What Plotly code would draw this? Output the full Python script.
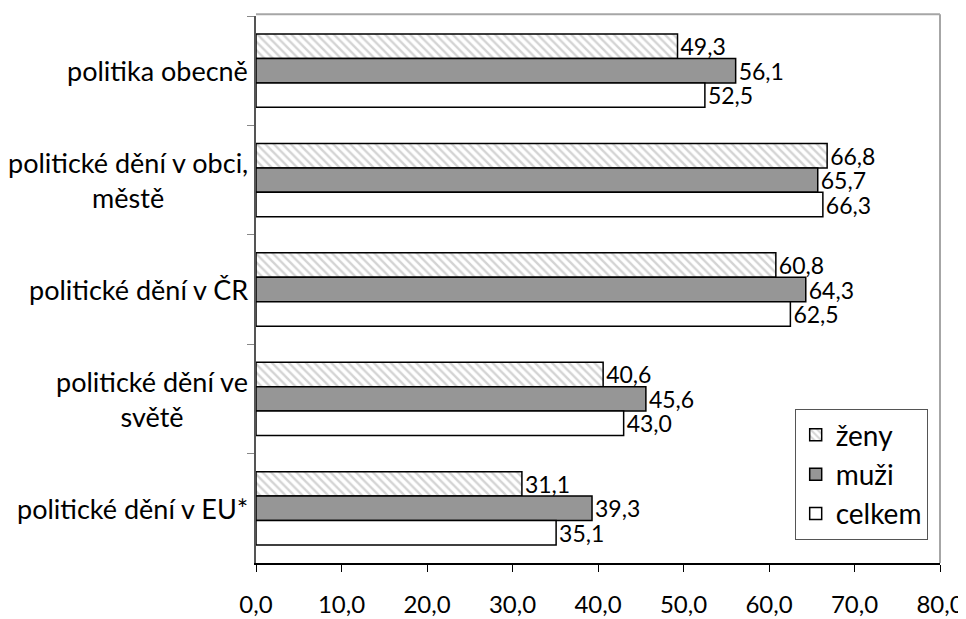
import plotly.graph_objects as go

categories = ["politika obecně", "politické dění v obci,<br>městě", "politické dění v ČR",
              "politické dění ve<br>světě", "politické dění v EU*"]
zeny = [49.3, 66.8, 60.8, 40.6, 31.1]
muzi = [56.1, 65.7, 64.3, 45.6, 39.3]
celkem = [52.5, 66.3, 62.5, 43.0, 35.1]
x_ticks = [0, 10, 20, 30, 40, 50, 60, 70, 80]

FONT = "Lato, Carlito, Calibri, sans-serif"

fig = go.Figure()
common = dict(orientation="h", textposition="outside", texttemplate="%{x:.1f}",
              textfont=dict(size=23, color="black", family=FONT), cliponaxis=False,
              constraintext="none")
fig.add_trace(go.Bar(name="ženy", y=categories, x=zeny, legendgroup="a",
                     marker=dict(color="white", line=dict(color="black", width=1.5),
                                 pattern=dict(shape="\\", fgcolor="#a8a8a8", bgcolor="white",
                                              size=6, solidity=0.4)),
                     **common))
fig.add_trace(go.Bar(name="muži", y=categories, x=muzi, legendgroup="b",
                     marker=dict(color="#969696", line=dict(color="black", width=1.5)),
                     **common))
fig.add_trace(go.Bar(name="celkem", y=categories, x=celkem, legendgroup="c",
                     marker=dict(color="white", line=dict(color="black", width=1.5)),
                     **common))

for c in categories:
    fig.add_annotation(x=0, xref="paper", xanchor="right", xshift=-6,
                       y=c, yref="y", yanchor="middle", text=c, showarrow=False,
                       align="center", font=dict(size=27, color="black", family=FONT))

fig.add_shape(type="line", xref="paper", yref="paper", x0=0, x1=1, y0=1.003, y1=1.003,
              line=dict(color="#a6a6a6", width=2))
fig.add_shape(type="line", xref="paper", yref="paper", x0=1, x1=1, y0=0, y1=1.003,
              line=dict(color="#a6a6a6", width=2))

# page body has an 8px default margin, so the figure is offset by (8, 8)
fig.update_layout(
    width=958, height=611,
    margin=dict(l=248, r=26, t=8, b=56, autoexpand=False),
    paper_bgcolor="white", plot_bgcolor="white",
    barmode="group", bargap=0.33, bargroupgap=0,
    separators=", ",
    font=dict(family=FONT, color="black"),
    showlegend=True,
    legend=dict(x=0.982, xanchor="right", y=0.042, yanchor="bottom",
                bgcolor="white", bordercolor="#555555", borderwidth=1,
                font=dict(size=28, family=FONT, color="black"),
                tracegroupgap=12, traceorder="normal"),
    xaxis=dict(range=[0, 80], tickvals=x_ticks, tickformat=".1f", automargin=False,
               showgrid=False, zeroline=False, showline=True, linecolor="black",
               linewidth=1.5, ticks="outside", ticklen=7, tickcolor="black",
               tickfont=dict(size=24, family=FONT, color="black"),
               ticklabelstandoff=12),
    yaxis=dict(autorange="reversed", showticklabels=False, showgrid=False, automargin=False,
               showline=True, linecolor="#555555", linewidth=2,
               ticks="outside", tickson="boundaries", ticklen=7, tickcolor="#888888"),
)

fig.write_html("out.html")
